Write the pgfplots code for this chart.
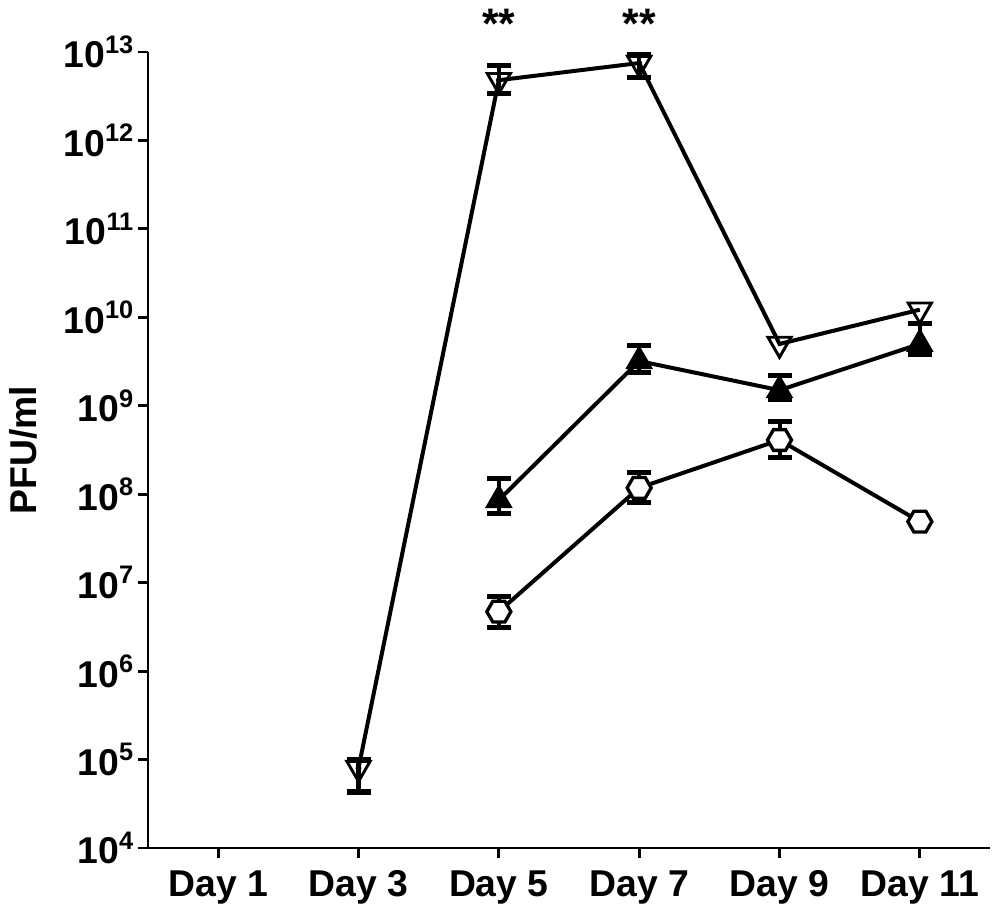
\documentclass[border=0pt]{standalone}
\usepackage{fontspec}
\setmainfont{Liberation Sans}
\usepackage{pgfplots}
\pgfplotsset{compat=1.18}
\pgfdeclareplotmark{hexagon}{%
  \pgfpathmoveto{\pgfqpointpolar{0}{\pgfplotmarksize}}%
  \pgfpathlineto{\pgfqpointpolar{60}{\pgfplotmarksize}}%
  \pgfpathlineto{\pgfqpointpolar{120}{\pgfplotmarksize}}%
  \pgfpathlineto{\pgfqpointpolar{180}{\pgfplotmarksize}}%
  \pgfpathlineto{\pgfqpointpolar{240}{\pgfplotmarksize}}%
  \pgfpathlineto{\pgfqpointpolar{300}{\pgfplotmarksize}}%
  \pgfpathclose
  \pgfusepathqfillstroke}
\newcommand{\bigf}{\fontsize{28}{30}\selectfont\bfseries}
\newcommand{\tl}[1]{10\raisebox{11pt}{\fontsize{19}{20}\selectfont\bfseries #1}}
\begin{document}
\begin{tikzpicture}
\useasboundingbox (-111pt,-51pt) rectangle (635.25pt,636pt);
\begin{axis}[
  at={(0,0)}, anchor=south west,
  scale only axis,
  width=631.5pt, height=597pt,
  ymode=log,
  xmin=-0.5, xmax=5.5,
  ymin=1e4, ymax=1e13,
  axis x line*=bottom, axis y line*=left,
  axis line style={line width=2.2pt},
  tick style={line width=2.2pt, black},
  tick align=outside,
  major tick length=7.5pt,
  yminorticks=false,
  xtick={0,1,2,3,4,5},
  xticklabels={Day 1,Day 3,Day 5,Day 7,Day 9,Day 11},
  ytick={1e4,1e5,1e6,1e7,1e8,1e9,1e10,1e11,1e12,1e13},
  yticklabels={\tl{4},\tl{5},\tl{6},\tl{7},\tl{8},\tl{9},\tl{10},\tl{11},\tl{12},\tl{13}},
  tick label style={font=\bigf},
  xticklabel style={yshift=-6pt},
  ylabel={PFU/ml},
  ylabel style={font=\bigf, yshift=13pt},
  clip=false,
]
% error bars: open down-triangles
\addplot[only marks, mark=none,
  error bars/.cd, y dir=both, y explicit,
  error bar style={line width=3pt, black},
  error mark options={rotate=90, mark size=9pt, line width=3.8pt, black}]
coordinates {
  (1,8.0e4) += (0,2.0e4) -= (0,3.7e4)
  (2,4.8e12) += (0,2.3e12) -= (0,1.4e12)
  (3,7.5e12) += (0,1.8e12) -= (0,2.4e12)
};
% error bars: filled up-triangles
\addplot[only marks, mark=none,
  error bars/.cd, y dir=both, y explicit,
  error bar style={line width=3pt, black},
  error mark options={rotate=90, mark size=9pt, line width=3.8pt, black}]
coordinates {
  (2,8.6e7) += (0,6.4e7) -= (0,2.5e7)
  (3,3.2e9) += (0,1.6e9) -= (0,0.8e9)
  (4,1.5e9) += (0,0.7e9) -= (0,0.33e9)
  (5,5.0e9) += (0,3.6e9) -= (0,1.2e9)
};
% error bars: open hexagons
\addplot[only marks, mark=none,
  error bars/.cd, y dir=both, y explicit,
  error bar style={line width=3pt, black},
  error mark options={rotate=90, mark size=9pt, line width=3.8pt, black}]
coordinates {
  (2,4.7e6) += (0,2.2e6) -= (0,1.6e6)
  (3,1.18e8) += (0,0.56e8) -= (0,0.38e8)
  (4,4.1e8) += (0,2.5e8) -= (0,1.5e8)
};
% series lines and marks
\addplot[black, line width=3pt, mark=triangle, mark size=10pt,
  mark options={rotate=180, fill=white, line width=2.2pt, solid}]
coordinates {(1,8.0e4) (2,4.8e12) (3,7.5e12) (4,5.0e9) (5,1.22e10)};
\addplot[black, line width=3pt, mark=triangle*, mark size=10pt,
  mark options={fill=black, line width=2pt}]
coordinates {(2,8.6e7) (3,3.2e9) (4,1.5e9) (5,5.0e9)};
\addplot[black, line width=3pt, mark=hexagon, mark size=9pt,
  mark options={fill=white, line width=2.5pt}]
coordinates {(2,4.7e6) (3,1.18e8) (4,4.1e8) (5,4.9e7)};
\node[font=\fontsize{32}{34}\selectfont\bfseries] at (axis cs:2,2.1e13) {**};
\node[font=\fontsize{32}{34}\selectfont\bfseries] at (axis cs:3,2.1e13) {**};
\end{axis}
\end{tikzpicture}
\end{document}
